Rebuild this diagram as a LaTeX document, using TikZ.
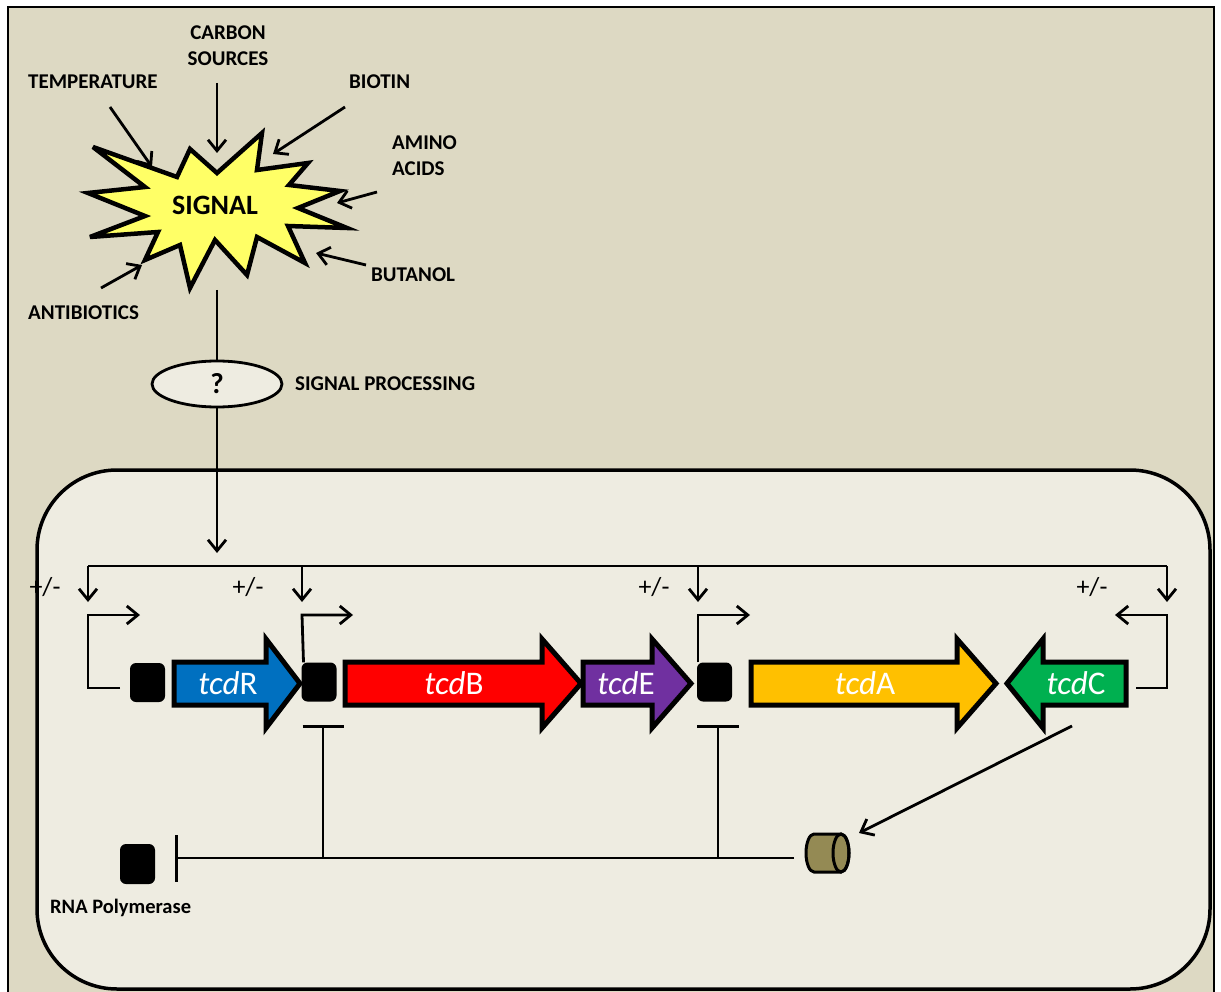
\documentclass[tikz,border=0pt]{standalone}
\usepackage{fontspec}
\setmainfont{Carlito}
\usetikzlibrary{arrows.meta,shapes.geometric}

\definecolor{bgout}{HTML}{DDD9C3}
\definecolor{bgin}{HTML}{EEECE1}
\definecolor{burst}{HTML}{FFFF66}
\definecolor{geneR}{HTML}{0070C0}
\definecolor{geneB}{HTML}{FF0000}
\definecolor{geneE}{HTML}{7030A0}
\definecolor{geneA}{HTML}{FFC000}
\definecolor{geneC}{HTML}{00B050}
\definecolor{olive}{HTML}{948A54}

\tikzset{
  lbl/.style={font=\fontsize{21}{26}\selectfont\bfseries, inner sep=0pt},
  pm/.style={font=\fontsize{26}{28}\selectfont, inner sep=0pt},
  wire/.style={line width=2.8pt},
  arr/.style={wire, -{Straight Barb[length=11pt,width=18pt]}},
  genebody/.style={line width=5pt, draw=black, line join=miter},
  genelbl/.style={font=\fontsize{33}{33}\selectfont, text=white, inner sep=0pt},
  promoter/.style={fill=black, rounded corners=6pt, minimum width=35pt, minimum height=39pt, inner sep=0pt},
}

% one gene: name, body end x, head base x, tip x, colour, label x, label
\newcommand\genearrow[7]{%
  \filldraw[genebody, fill=#5] (#2,662) -- (#3,662) -- (#3,639) -- (#4,683.5)
    -- (#3,728) -- (#3,705) -- (#2,705) -- cycle;
  \node[genelbl] (#1) at (#6,683) {#7};
}

\begin{document}
\begin{tikzpicture}[x=1pt,y=-1pt]
\useasboundingbox (0,0) rectangle (1221,992);
\fill[white] (0,0) rectangle (1221,992);

% frame and cell
\draw[line width=2.5pt, fill=bgout] (8,7) rectangle (1214,1000);
\draw[line width=3.5pt, fill=bgin, rounded corners=80pt] (37,470) rectangle (1210,989);

% signal burst
\filldraw[fill=burst, line width=4.5pt, line join=miter, miter limit=6]
  (93,147) -- (177,177) -- (190,149) -- (217,173) -- (262,133) -- (257,170)
  -- (308,163) -- (289,185) -- (340,191) -- (298,208) -- (347,228) -- (288,226)
  -- (305,263) -- (257,237) -- (247,275) -- (215,240) -- (190,288) -- (180,245)
  -- (145,260) -- (158,232) -- (90,237) -- (145,216) -- (88,193) -- (145,187) -- cycle;
\node[font=\fontsize{28}{28}\selectfont\bfseries, inner sep=0pt] (sig) at (215,205) {SIGNAL};

% stimuli
\node[lbl, anchor=west] (temp) at (28,82) {TEMPERATURE};
\node[lbl, align=center] (carb) at (228,46) {CARBON\\SOURCES};
\node[lbl, anchor=west] (biot) at (349,82) {BIOTIN};
\node[lbl, anchor=west, align=left] (amino) at (392,156) {AMINO\\ACIDS};
\node[lbl, anchor=west] (buta) at (371,275) {BUTANOL};
\node[lbl, anchor=west] (anti) at (28,313) {ANTIBIOTICS};

\coordinate (temp-s) at (110,107); \coordinate (temp-e) at (152,167);
\coordinate (carb-s) at (217,83);  \coordinate (carb-e) at (217,153);
\coordinate (biot-s) at (345,107); \coordinate (biot-e) at (273,154);
\coordinate (amino-s) at (377,192); \coordinate (amino-e) at (337,203);
\coordinate (buta-s) at (366,265); \coordinate (buta-e) at (316,253);
\coordinate (anti-s) at (101,288); \coordinate (anti-e) at (142,265);
\foreach \s in {temp,carb,biot,amino,buta,anti}
  \draw[arr] (\s-s) -- (\s-e);

% signal processing
\node[draw, ellipse, line width=2.8pt, fill=bgin, minimum width=130pt, minimum height=46pt,
      inner sep=0pt, font=\fontsize{29}{29}\selectfont\bfseries] (proc) at (217,384) {?};
\node[lbl, anchor=west] (proclbl) at (295,384) {SIGNAL PROCESSING};
\coordinate (burst-out) at (217,290);
\coordinate (sig-in) at (217,553);
\draw[wire] (burst-out) -- (proc.north);
\draw[arr] (proc.south) -- (sig-in);

% regulatory bus
\coordinate (bus1) at (88,566);  \coordinate (bus2) at (302,566);
\coordinate (bus3) at (698,566); \coordinate (bus4) at (1167,566);
\draw[wire] (bus1) -- (bus4);
\foreach \b in {1,2,3,4}
  \draw[arr] (bus\b) -- ++(0,36);
\node[pm] (pm1) at (45,587) {+/-};
\node[pm] (pm2) at (248,587) {+/-};
\node[pm] (pm3) at (654,587) {+/-};
\node[pm] (pm4) at (1092,587) {+/-};

% promoters
\node[promoter] (p1) at (147.5,682.5) {};
\node[promoter] (p2) at (319,682) {};
\node[promoter] (p3) at (714.5,682) {};

% genes
\genearrow{tcdR}{174}{266}{300}{geneR}{228}{\textit{tcd}R}
\genearrow{tcdB}{345}{542}{581}{geneB}{454}{\textit{tcd}B}
\genearrow{tcdE}{583}{652}{691}{geneE}{626}{\textit{tcd}E}
\genearrow{tcdA}{751}{957}{996}{geneA}{865}{\textit{tcd}A}
\genearrow{tcdC}{1126}{1043}{1007}{geneC}{1076}{\textit{tcd}C}

% transcription starts
\coordinate (ts1) at (120,688);
\draw[arr] (ts1) -- (88,688) -- (88,615) -- (140,615);
\draw[arr] ([xshift=-15.5pt]p2.north) -- (302,615) -- (353,615);
\draw[arr] ([xshift=-16.5pt]p3.north) -- (698,615) -- (750,615);
\coordinate (ts4) at (1136,688);
\draw[arr] (ts4) -- (1167,688) -- (1167,615) -- (1115,615);

% anti-sigma factor and repression
\node[minimum width=45pt, minimum height=39pt, inner sep=0pt] (cyl) at (827,853) {};
\filldraw[fill=olive, line width=3pt] (814,834) -- (841,834) arc (-90:90:8 and 19)
  -- (814,872) arc (90:270:8 and 19) -- cycle;
\draw[line width=3pt] (841,853) ellipse (8 and 19);

\node[promoter, minimum height=40pt] (rnap) at (137.5,864) {};
\node[lbl, font=\fontsize{20.5}{22}\selectfont\bfseries, anchor=base west] (rnaplbl) at (50,913) {RNA Polymerase};

\coordinate (c-out) at (1072,726);
\coordinate (cyl-in) at (859,833);
\draw[arr] (c-out) -- (cyl-in);

\coordinate (rep0) at (794,858);
\coordinate (rnap-bar) at (175,858);
\coordinate (j2) at (323,858);
\coordinate (j3) at (718,858);
\draw[wire, -{Bar[width=47pt]}] (rep0) -- (rnap-bar);
\draw[wire, -{Bar[width=41pt]}] (j2) -- (323,725);
\draw[wire, -{Bar[width=42pt]}] (j3) -- (718,725);
\end{tikzpicture}
\end{document}
